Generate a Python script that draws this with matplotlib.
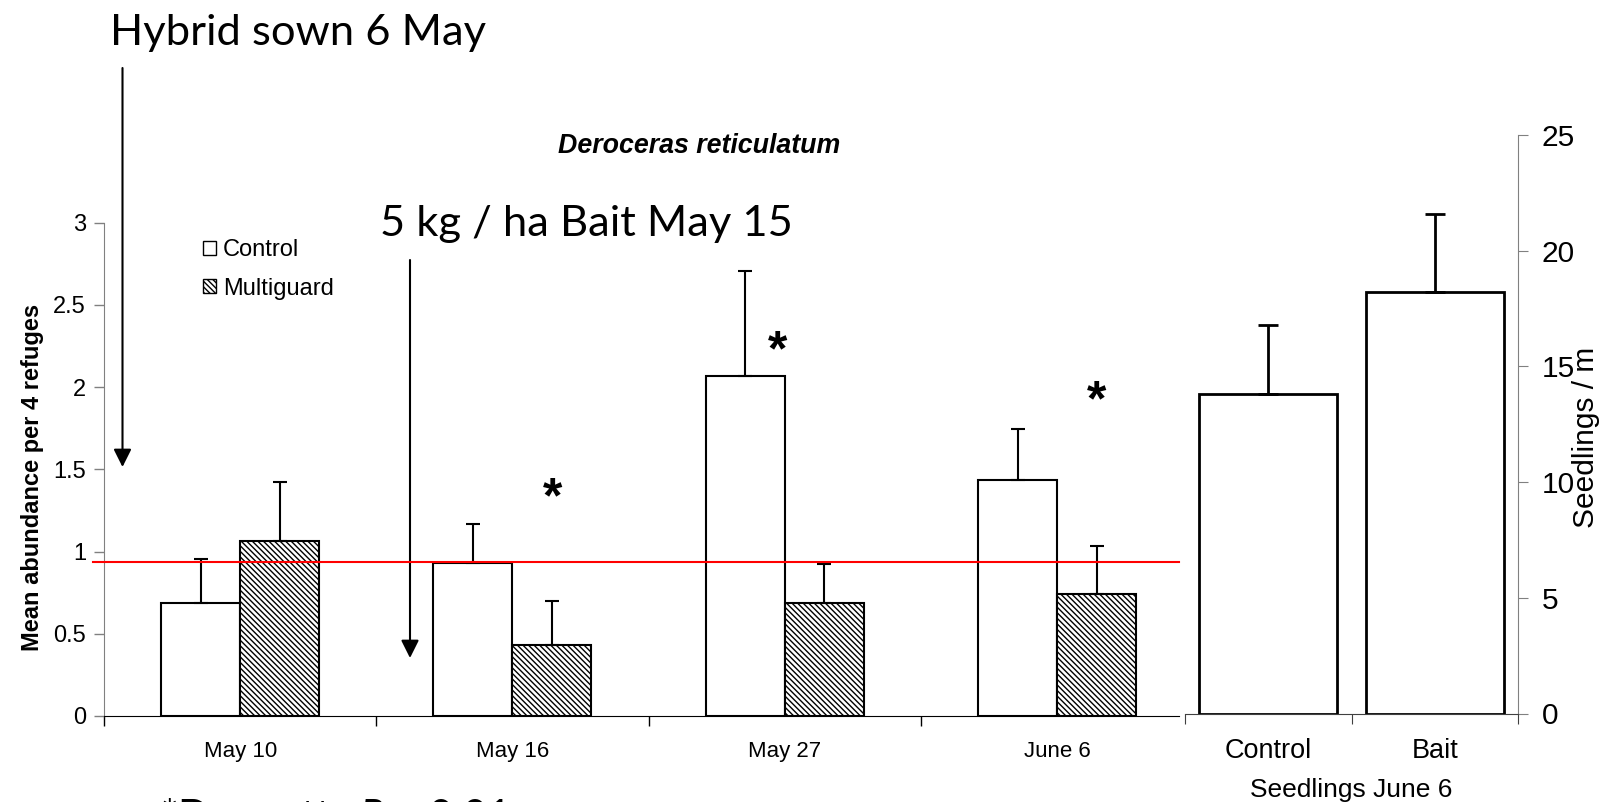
import numpy as np
import matplotlib.pyplot as plt
from matplotlib.patches import Patch

plt.rcParams['font.family'] = ['Liberation Sans', 'DejaVu Sans']
plt.rcParams['mathtext.fontset'] = 'custom'
plt.rcParams['mathtext.rm'] = 'Lato'
plt.rcParams['mathtext.it'] = 'Lato:italic'
plt.rcParams['hatch.linewidth'] = 1.0

# slug counts
dates = ['May 10', 'May 16', 'May 27', 'June 6']
control = [0.69, 0.93, 2.07, 1.435]
control_err = [0.265, 0.235, 0.635, 0.31]
multiguard = [1.065, 0.432, 0.689, 0.742]
multiguard_err = [0.358, 0.267, 0.233, 0.291]
threshold = 0.935

# seedlings
seed_groups = ['Control', 'Bait']
seedlings = [13.8, 18.2]
seedlings_err = [3.0, 3.4]

W, H = 1601, 802
fig = plt.figure(figsize=(W / 100, H / 100), dpi=100)

def box(x0, y0, x1, y1):
    return [x0 / W, 1 - y1 / H, (x1 - x0) / W, (y1 - y0) / H]

ax = fig.add_axes(box(104, 222.6, 1179, 716))
ax2 = fig.add_axes(box(1185, 135, 1518, 713.5))

hatch = '\\' * 6
x = np.arange(len(dates))
w = 0.29
ekw = dict(ecolor='black', elinewidth=1.5, capsize=5, capthick=1.5)
ax.bar(x - w / 2, control, w, color='white', edgecolor='black', lw=1.5,
       yerr=[np.zeros(len(x)), control_err], error_kw=ekw, label='Control')
ax.bar(x + w / 2, multiguard, w, color='white', edgecolor='black', lw=1.5,
       hatch=hatch, yerr=[np.zeros(len(x)), multiguard_err], error_kw=ekw,
       label='Multiguard')
ax.axhline(threshold, xmin=-11 / 1075, xmax=1, color='red', lw=1.5,
           clip_on=False, zorder=5)

ax.set_xlim(-0.5, -0.5 + 1075 / 272.3)
ax.set_ylim(0, 3)
ax.set_yticks(np.arange(0, 3.01, 0.5))
ax.set_yticklabels(['0', '0.5', '1', '1.5', '2', '2.5', '3'])
ax.set_xticks([-0.5, 0.5, 1.5, 2.5])
ax.set_xticklabels([])
ax.set_xticks(x, minor=True)
ax.set_xticklabels(dates, minor=True)
ax.tick_params(axis='x', which='major', length=7, width=1, color='black')
ax.tick_params(axis='x', which='minor', length=0, pad=18, labelsize=16)
ax.tick_params(axis='y', length=7, width=1, color='#808080', pad=6,
               labelsize=17)
for s in ['top', 'right']:
    ax.spines[s].set_visible(False)
ax.spines['left'].set_color('#808080')
ax.spines['bottom'].set_color('black')
ax.set_ylabel('Mean abundance per 4 refuges', fontsize=17,
              fontweight='bold')
ax.yaxis.set_label_coords(-0.056, 0.484)

handles = [Patch(facecolor='white', edgecolor='black', lw=1),
           Patch(facecolor='white', edgecolor='black', lw=1, hatch=hatch)]
fig.legend(handles, ['Control', 'Multiguard'], loc='upper left',
           bbox_to_anchor=(203 / W, 1 - 239 / H), frameon=False,
           fontsize=17, handlelength=0.55, handleheight=0.55,
           handletextpad=0.3, labelspacing=0.7, borderpad=0,
           borderaxespad=0)

# significance stars
for sx, sy in [(1.149, 1.24), (1.972, 2.13), (3.147, 1.83)]:
    ax.text(sx, sy, '*', fontsize=36, fontweight='bold', ha='center',
            va='baseline')

# seedlings panel
x2 = np.arange(len(seed_groups))
ax2.bar(x2, seedlings, 0.83, color='white', edgecolor='black', lw=2,
        yerr=[np.zeros(len(x2)), seedlings_err],
        error_kw=dict(ecolor='black', elinewidth=2, capsize=7, capthick=2))
ax2.set_xlim(-0.5, 1.5)
ax2.set_ylim(0, 25)
ax2.yaxis.tick_right()
ax2.yaxis.set_label_position('right')
ax2.set_yticks(np.arange(0, 26, 5))
ax2.set_xticks([-0.5, 0.5, 1.5])
ax2.set_xticklabels([])
ax2.set_xticks(x2, minor=True)
ax2.set_xticklabels(seed_groups, minor=True)
ax2.tick_params(axis='x', which='major', length=7, color='#404040')
ax2.tick_params(axis='x', which='minor', length=0, pad=18, labelsize=19.5)
ax2.tick_params(axis='y', length=7, color='#808080', pad=10, labelsize=21.5)
for s in ['top', 'left']:
    ax2.spines[s].set_visible(False)
ax2.spines['right'].set_color('#808080')
ax2.spines['bottom'].set_color('#404040')
ax2.set_ylabel('Seedlings / m', fontsize=21.5)
ax2.yaxis.set_label_coords(1.163, 0.478)
ax2.set_xlabel('Seedlings June 6', fontsize=19)
ax2.xaxis.set_label_coords(0.5, -0.112)

# annotations
arw = dict(arrowstyle='-|>', lw=1.5, color='black', mutation_scale=27,
           shrinkA=0, shrinkB=0)
fig.text(110 / W, 1 - 45 / H, 'Hybrid sown 6 May', fontsize=31.3,
         family='Lato', va='baseline')
ax.annotate('', xy=(122.5, H - 467), xytext=(122.5, H - 68),
            xycoords='figure pixels', textcoords='figure pixels',
            arrowprops=arw, annotation_clip=False)
fig.text(380 / W, 1 - 236 / H, '5 kg / ha Bait May 15', fontsize=31.3,
         family='Lato', va='baseline')
ax.annotate('', xy=(410, H - 658), xytext=(410, H - 260),
            xycoords='figure pixels', textcoords='figure pixels',
            arrowprops=arw, annotation_clip=False)
fig.text(699 / W, 1 - 146 / H, 'Deroceras reticulatum', fontsize=19.3,
         fontweight='bold', fontstyle='italic', ha='center', va='center')
fig.text(160 / W, -28 / H, r'*Dunnetts $\it{P}$ < 0.01', fontsize=30,
         family='Lato', va='baseline')

fig.savefig('out.png', dpi=100)
